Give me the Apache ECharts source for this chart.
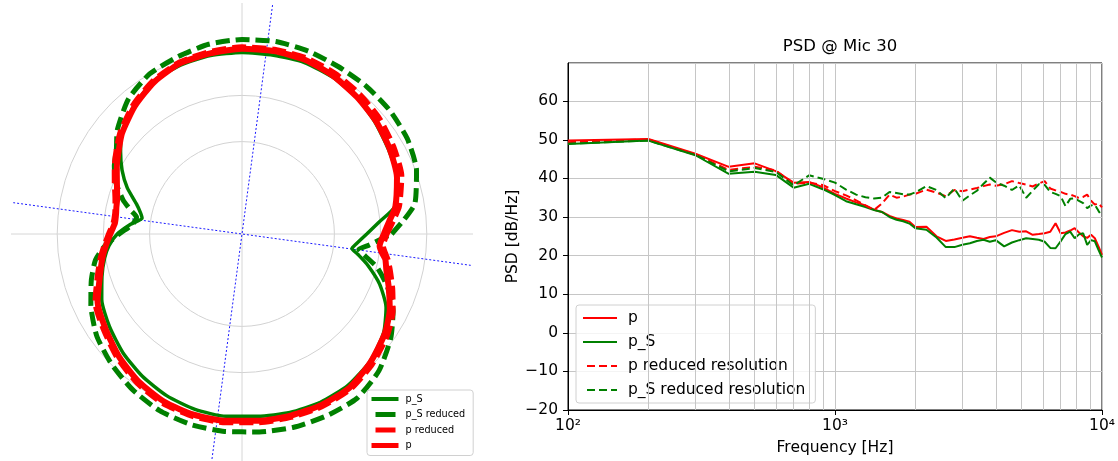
<!DOCTYPE html>
<html>
<head>
<meta charset="utf-8">
<script src="https://cdn.jsdelivr.net/npm/echarts@6/dist/echarts.min.js"></script>
<style>
  html, body { margin: 0; padding: 0; background: #fff; }
  #chart { width: 1118px; height: 461px; }
</style>
</head>
<body>
<div id="chart"></div>
<script>
// ---- polar directivity (left) ----
// angle in degrees, counter-clockwise from east; radius in ring units
const angles = [0, 5, 10, 20, 30, 40, 50, 60, 70, 80, 90, 100, 110, 120, 130, 140, 146, 152, 158, 164, 168, 171, 175, 180,
  185, 190, 197, 205, 215, 225, 235, 245, 255, 265, 275, 285, 295, 305, 315, 325, 333, 340, 346, 350, 352.5, 355, 360];
const rPS = [2.70, 2.98, 3.35, 3.57, 3.66, 3.76, 3.86, 3.92, 3.95, 3.93, 3.93, 3.92, 3.89, 3.82, 3.63, 3.39, 3.17, 2.94,
  2.68, 2.38, 2.25, 2.19, 2.42, 2.70, 2.89, 3.02, 3.17, 3.35, 3.50, 3.64, 3.76, 3.86, 3.93, 3.96, 3.96, 4.00, 4.02,
  4.00, 3.91, 3.74, 3.50, 3.17, 2.81, 2.55, 2.40, 2.48, 2.70];
const rPSReduced = [3.24, 3.52, 3.80, 4.02, 4.13, 4.17, 4.18, 4.18, 4.21, 4.23, 4.21, 4.17, 4.08, 4.00, 3.82, 3.52, 3.28,
  3.13, 2.94, 2.68, 2.46, 2.31, 2.38, 2.66, 2.98, 3.22, 3.41, 3.61, 3.84, 3.99, 4.12, 4.22, 4.27, 4.29, 4.30, 4.33,
  4.34, 4.34, 4.19, 3.93, 3.67, 3.35, 3.02, 2.70, 2.55, 2.76, 3.24];
const rPReduced = [3.13, 3.28, 3.45, 3.67, 3.78, 3.88, 3.95, 4.01, 4.05, 4.05, 4.04, 4.00, 3.95, 3.83, 3.65, 3.43, 3.27,
  3.12, 2.97, 2.85, 2.80, 2.78, 2.79, 2.88, 2.99, 3.11, 3.27, 3.50, 3.64, 3.80, 3.94, 4.04, 4.08, 4.09, 4.09, 4.10,
  4.11, 4.09, 3.98, 3.83, 3.66, 3.46, 3.30, 3.20, 3.12, 3.06, 3.13];
const rP = [3.07, 3.20, 3.37, 3.57, 3.69, 3.79, 3.87, 3.95, 4.01, 4.02, 4.01, 3.97, 3.93, 3.80, 3.61, 3.39, 3.22, 3.07,
  2.92, 2.81, 2.78, 2.76, 2.76, 2.85, 2.96, 3.07, 3.22, 3.45, 3.60, 3.76, 3.90, 4.00, 4.05, 4.06, 4.06, 4.07, 4.08,
  4.06, 3.93, 3.77, 3.59, 3.38, 3.22, 3.15, 3.05, 2.99, 3.07];
const principalAngles = [82.4, 172.2];
const ringValues = [2, 3, 4];

// ---- PSD @ Mic 30 (right) ----
const freqs = [100, 200, 300, 400, 500, 600, 700, 800, 900, 1000, 1100, 1200, 1300, 1400, 1500, 1600, 1700, 1800, 1900,
  2000, 2200, 2400, 2600, 2800, 3000, 3200, 3400, 3600, 3800, 4000, 4300, 4600, 4900, 5200, 5500, 5800, 6100, 6400,
  6700, 7000, 7300, 7600, 7900, 8200, 8500, 8800, 9100, 9400, 9700, 10000];
const psdP = [49.8, 50.2, 46.4, 43.0, 43.9, 41.9, 38.9, 39.1, 37.7, 36.0, 34.8, 33.8, 33.0, 31.9, 31.3, 30.3, 29.6, 29.2,
  28.8, 27.4, 27.5, 25.0, 23.8, 24.2, 24.6, 25.0, 24.6, 24.3, 24.8, 25.0, 25.9, 26.6, 26.2, 26.3, 25.4, 25.6, 25.8,
  26.2, 28.4, 25.8, 26.0, 26.5, 27.1, 26.0, 25.0, 24.6, 25.4, 24.5, 22.4, 20.2];
const psdPS = [48.9, 49.8, 46.0, 41.2, 41.7, 40.9, 37.6, 38.6, 37.2, 35.7, 34.1, 33.3, 32.6, 31.8, 31.3, 30.0, 29.3, 28.9,
  28.3, 27.1, 26.7, 24.7, 22.2, 22.2, 22.8, 23.2, 23.8, 24.1, 23.6, 24.0, 22.4, 23.4, 24.0, 24.5, 24.3, 24.1, 23.6,
  22.0, 21.9, 23.7, 25.6, 26.2, 24.5, 25.5, 25.8, 22.8, 24.0, 23.7, 21.5, 19.5];
const psdPReduced = [49.4, 50.1, 46.2, 42.2, 43.0, 42.1, 38.6, 38.9, 38.3, 36.7, 35.6, 34.3, 33.0, 31.8, 33.5, 35.8, 35.0,
  35.3, 35.8, 36.0, 37.1, 36.3, 35.4, 37.0, 36.7, 37.1, 37.5, 38.0, 38.4, 38.1, 38.5, 39.3, 38.8, 38.4, 37.9, 38.7,
  39.3, 37.4, 36.9, 36.5, 36.0, 35.8, 35.4, 34.9, 35.2, 35.8, 34.2, 33.2, 33.6, 32.5];
const psdPSReduced = [49.0, 49.8, 46.1, 41.8, 42.7, 41.7, 38.2, 40.8, 39.9, 38.9, 37.1, 35.8, 35.1, 34.8, 35.0, 36.5, 36.2,
  35.9, 35.8, 36.4, 38.0, 37.0, 34.9, 37.4, 34.2, 35.6, 36.8, 38.6, 40.2, 39.0, 38.1, 37.0, 38.2, 35.0, 36.8, 38.5,
  38.3, 36.5, 36.0, 35.4, 32.8, 34.7, 34.8, 34.2, 33.6, 32.3, 33.0, 33.2, 31.6, 30.2];
const minorFreqs = [200, 300, 400, 500, 600, 700, 800, 900, 2000, 3000, 4000, 5000, 6000, 7000, 8000, 9000];
const yTicks = [-20, -10, 0, 10, 20, 30, 40, 50, 60];

const RED = "#ff0000";
const GREEN = "#008000";
const GRID = "#c6c6c6";
const FONT = "DejaVu Sans";

const chart = echarts.init(document.getElementById("chart"), null, { renderer: "canvas" });

const polarCurve = (name, radii, color, width, type) => ({
  type: "line",
  name,
  coordinateSystem: "polar",
  polarIndex: 0,
  data: angles.map((a, i) => [radii[i], a]),
  symbol: "none",
  smooth: 0.2,
  color,
  lineStyle: { color, width, type },
  silent: true,
});

const psdCurve = (name, values, color, type) => ({
  type: "line",
  name,
  xAxisIndex: 0,
  yAxisIndex: 0,
  data: freqs.map((f, i) => [f, values[i]]),
  symbol: "none",
  color,
  lineStyle: { color, width: 2, type },
  z: 3,
  silent: true,
});

const sup = { 2: "\u00b2", 3: "\u00b3", 4: "\u2074" };
const ringMax = 5;
const ringColors = [];
for (let v = 0; v <= ringMax; v++) {
  ringColors.push(ringValues.includes(v) ? "#d2d2d2" : "rgba(0,0,0,0)");
}

chart.setOption({
  animation: false,
  textStyle: { fontFamily: FONT },
  title: {
    text: "PSD @ Mic 30",
    left: 835,
    top: 33,
    textAlign: "center",
    textStyle: { fontSize: 16.5, fontWeight: "normal", color: "#000", fontFamily: FONT },
  },
  polar: { center: [242, 234], radius: 231 },
  angleAxis: {
    type: "value",
    min: 0,
    max: 360,
    interval: 90,
    startAngle: 0,
    clockwise: false,
    axisLine: { show: false },
    axisTick: { show: false },
    axisLabel: { show: false },
    splitLine: { show: true, lineStyle: { color: "#d6d6d6", width: 1 } },
  },
  radiusAxis: {
    type: "value",
    min: 0,
    max: ringMax,
    interval: 1,
    axisLine: { show: false },
    axisTick: { show: false },
    axisLabel: { show: false },
    splitLine: { show: true, lineStyle: { color: ringColors, width: 1 } },
  },
  grid: {
    left: 568,
    top: 63,
    width: 534,
    height: 350,
    show: true,
    borderColor: "#000",
    borderWidth: 1,
    backgroundColor: "transparent",
  },
  xAxis: {
    type: "log",
    logBase: 10,
    min: 100,
    max: 10000,
    axisLine: { show: true, onZero: false, lineStyle: { color: "#000", width: 1 } },
    axisTick: { show: true, length: 5, lineStyle: { color: "#000" } },
    axisLabel: {
      color: "#000",
      fontSize: 15.5,
      fontFamily: FONT,
      margin: 8,
      formatter: (v) => "10" + sup[Math.round(Math.log10(v))],
    },
    splitLine: { show: true, lineStyle: { color: GRID, width: 1 } },
    name: "Frequency [Hz]",
    nameLocation: "middle",
    nameGap: 30,
    nameTextStyle: { color: "#000", fontSize: 15.5, fontFamily: FONT },
  },
  yAxis: {
    type: "value",
    min: -20,
    max: 69.9,
    interval: 10,
    axisLine: { show: true, lineStyle: { color: "#000", width: 1 } },
    axisTick: { show: true, length: 5, lineStyle: { color: "#000" } },
    axisLabel: {
      color: "#000",
      fontSize: 15.5,
      fontFamily: FONT,
      margin: 10,
      showMaxLabel: false,
      formatter: (v) => (yTicks.includes(v) ? String(v).replace("-", "\u2212") : ""),
    },
    splitLine: { show: true, lineStyle: { color: GRID, width: 1 } },
    name: "PSD [dB/Hz]",
    nameLocation: "middle",
    nameGap: 46,
    nameTextStyle: { color: "#000", fontSize: 15.5, fontFamily: FONT },
  },
  legend: [
    {
      orient: "vertical",
      left: 367,
      top: 390,
      itemWidth: 27,
      itemHeight: 10,
      itemGap: 5.5,
      padding: [4, 8, 5, 2],
      borderColor: "#d0d0d0",
      borderWidth: 1,
      borderRadius: 3,
      backgroundColor: "rgba(255,255,255,0.8)",
      selectedMode: false,
      itemStyle: { opacity: 0 },
      textStyle: { fontSize: 9.7, color: "#000", fontFamily: FONT, padding: [0, 0, 0, 2] },
      data: [
        { name: "p_S", lineStyle: { width: 4, type: "solid" } },
        { name: "p_S reduced", lineStyle: { width: 5, type: [20, 8], dashOffset: -4 } },
        { name: "p reduced", lineStyle: { width: 5, type: [20, 8], dashOffset: -4 } },
        { name: "p", lineStyle: { width: 5, type: "solid" } },
      ],
    },
    {
      orient: "vertical",
      left: 576,
      top: 305,
      itemWidth: 34,
      itemHeight: 14,
      itemGap: 8,
      padding: [5, 10, 5, 6],
      borderColor: "#d0d0d0",
      borderWidth: 1,
      borderRadius: 3,
      backgroundColor: "rgba(255,255,255,0.8)",
      selectedMode: false,
      itemStyle: { opacity: 0 },
      textStyle: { fontSize: 15.5, color: "#000", fontFamily: FONT, padding: [0, 0, 0, 6] },
      data: [
        { name: "p", lineStyle: { width: 2, type: "solid" } },
        { name: "p_S", lineStyle: { width: 2, type: "solid" } },
        { name: "p reduced resolution", lineStyle: { width: 2, type: [8, 4] } },
        { name: "p_S reduced resolution", lineStyle: { width: 2, type: [8, 4] } },
      ],
    },
  ],
  series: [
    // principal axes, blue dotted
    ...principalAngles.map((a, i) => ({
      type: "line",
      name: "axis" + i,
      coordinateSystem: "polar",
      data: [[ringMax, a], [ringMax, a + 180]],
      symbol: "none",
      lineStyle: { color: "#1a1aff", width: 1, type: [2, 2] },
      z: 1,
      silent: true,
    })),
    polarCurve("p_S", rPS, GREEN, 3.5, "solid"),
    polarCurve("p_S reduced", rPSReduced, GREEN, 5, [14, 6]),
    polarCurve("p reduced", rPReduced, RED, 6, [14, 6]),
    polarCurve("p", rP, RED, 6, "solid"),
    // minor log grid lines
    {
      type: "line",
      name: "minor",
      xAxisIndex: 0,
      yAxisIndex: 0,
      data: [],
      z: 1,
      silent: true,
      markLine: {
        silent: true,
        symbol: ["none", "none"],
        label: { show: false },
        lineStyle: { color: GRID, width: 1, type: "solid" },
        data: minorFreqs.map((f) => ({ xAxis: f })),
      },
    },
    psdCurve("p", psdP, RED, "solid"),
    psdCurve("p_S", psdPS, GREEN, "solid"),
    psdCurve("p reduced resolution", psdPReduced, RED, [8, 4]),
    psdCurve("p_S reduced resolution", psdPSReduced, GREEN, [8, 4]),
  ],
});
</script>
</body>
</html>
